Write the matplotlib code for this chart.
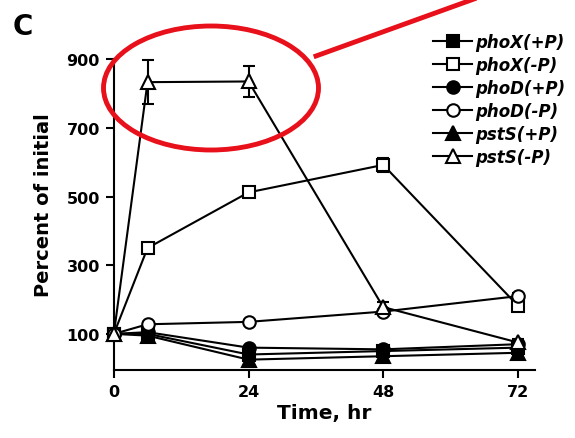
import matplotlib
matplotlib.use('Agg')
from matplotlib import pyplot
from matplotlib.patches import Ellipse
from matplotlib.lines import Line2D

pyplot.rcParams['font.family'] = ['DejaVu Sans']
pyplot.rcParams['font.weight'] = 'bold'

# time points, hr
time = [0, 6, 24, 48, 72]

# percent of initial
phoX_pP = [100, 100, 40, 50, 60]
phoX_mP = [100, 350, 512, 592, 182]
phoD_pP = [100, 105, 60, 55, 70]
phoD_mP = [100, 128, 135, 165, 210]
pstS_pP = [100, 95, 25, 35, 45]
pstS_mP = [100, 833, 835, 178, 75]

# error bars (symmetric)
phoX_pP_err = [0, 0, 0, 0, 8]
phoX_mP_err = [0, 10, 10, 20, 10]
phoD_pP_err = [0, 20, 0, 8, 10]
phoD_mP_err = [0, 8, 5, 0, 8]
pstS_pP_err = [0, 18, 20, 10, 10]
pstS_mP_err = [0, 65, 45, 15, 10]

labels = ['phoX(+P)', 'phoX(-P)', 'phoD(+P)', 'phoD(-P)', 'pstS(+P)', 'pstS(-P)']
series = [phoX_pP, phoX_mP, phoD_pP, phoD_mP, pstS_pP, pstS_mP]
errs = [phoX_pP_err, phoX_mP_err, phoD_pP_err, phoD_mP_err, pstS_pP_err, pstS_mP_err]
markers = ['s', 's', 'o', 'o', '^', '^']
msizes = [9, 9, 9, 9, 10, 10]
filled = [True, False, True, False, True, False]

fig = pyplot.figure(figsize=(5.75, 4.39), dpi=100)
ax = fig.add_axes([0.198, 0.155, 0.732, 0.708])

handles = []
for vals, err, m, ms, f, lab in zip(series, errs, markers, msizes, filled, labels):
    fc = 'black' if f else 'white'
    ax.errorbar(time, vals, yerr=err, color='black', lw=1.5, marker=m,
                markersize=ms, markerfacecolor=fc, markeredgecolor='black',
                markeredgewidth=1.5, capsize=4, elinewidth=1.5, capthick=1.5,
                clip_on=False, zorder=3 if f else 4)
    handles.append(Line2D([], [], color='black', lw=1.5, marker=m, markersize=ms,
                          markerfacecolor=fc, markeredgecolor='black',
                          markeredgewidth=1.5))

ax.set_xlim(0, 75)
ax.set_ylim(-5, 900)
ax.set_xticks([0, 24, 48, 72])
ax.set_yticks([100, 300, 500, 700, 900])
ax.spines['top'].set_visible(False)
ax.spines['right'].set_visible(False)
ax.spines['left'].set_linewidth(1.5)
ax.spines['bottom'].set_linewidth(1.5)
ax.tick_params(width=1.5, length=6, labelsize=11.5, pad=4)
for t in ax.get_xticklabels() + ax.get_yticklabels():
    t.set_fontweight('bold')

ax.set_xlabel('Time, hr', fontsize=14.5, fontweight='bold', labelpad=3)
ax.set_ylabel('Percent of initial', fontsize=14, fontweight='bold')
ax.yaxis.set_label_coords(-0.145, 0.535)

leg = fig.legend(handles, labels, loc='upper right', bbox_to_anchor=(1.0, 0.945),
                 frameon=False, handlelength=2.35, handletextpad=0.15,
                 labelspacing=0.3, borderaxespad=0.2,
                 prop={'size': 12, 'weight': 'bold', 'style': 'italic'})

fig.text(0.022, 0.92, 'C', fontsize=20, fontweight='bold')

# red highlight annotation
ell = Ellipse((211 / 575, 1 - 89 / 439), 215 / 575, 124 / 439,
              transform=fig.transFigure, fill=False, edgecolor='#e8101a', lw=3.5)
fig.patches.append(ell)
fig.add_artist(Line2D([316 / 575, 474 / 575], [1 - 57 / 439, 1.0],
                      transform=fig.transFigure, color='#e8101a', lw=3.5))

fig.savefig('out.png', dpi=100)
